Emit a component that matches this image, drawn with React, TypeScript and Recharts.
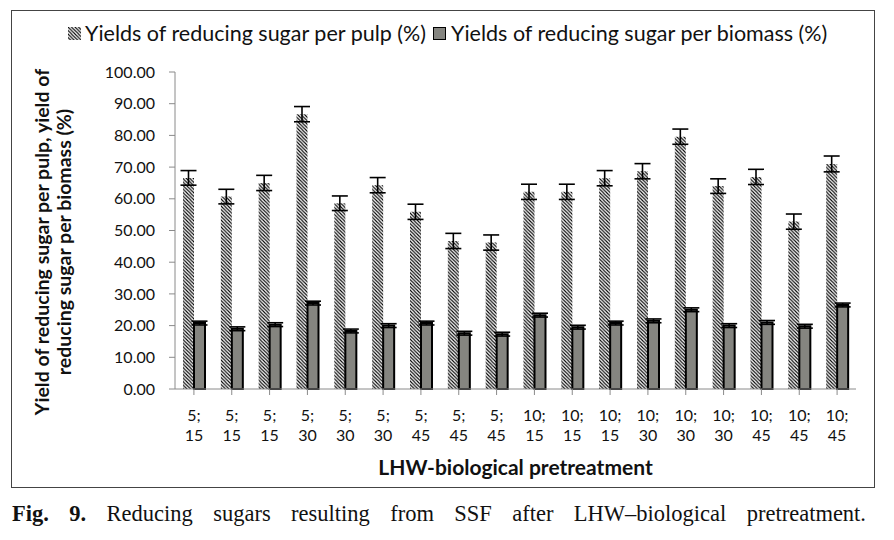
import React from 'react';
import { BarChart, Bar, XAxis, YAxis, ErrorBar } from 'recharts';

const categories = ['5; 15', '5; 15', '5; 15', '5; 30', '5; 30', '5; 30', '5; 45', '5; 45', '5; 45', '10; 15', '10; 15', '10; 15', '10; 30', '10; 30', '10; 30', '10; 45', '10; 45', '10; 45'];
const pulpYield = [66.6, 60.7, 65.0, 86.7, 58.6, 64.3, 55.9, 46.7, 46.2, 62.2, 62.2, 66.5, 68.7, 79.6, 64.0, 66.9, 52.8, 71.0];
const pulpErr = [2.3, 2.3, 2.4, 2.4, 2.3, 2.4, 2.4, 2.4, 2.4, 2.4, 2.4, 2.4, 2.4, 2.4, 2.3, 2.4, 2.4, 2.5];
const biomassYield = [20.8, 19.0, 20.3, 27.1, 18.3, 20.0, 20.8, 17.6, 17.3, 23.3, 19.5, 20.8, 21.5, 25.0, 20.0, 21.0, 19.8, 26.5];
const biomassErr = [0.6, 0.6, 0.6, 0.6, 0.6, 0.6, 0.6, 0.6, 0.6, 0.6, 0.6, 0.6, 0.6, 0.6, 0.6, 0.6, 0.6, 0.6];
const yTicks = [0, 10, 20, 30, 40, 50, 60, 70, 80, 90, 100];

const data = categories.map((name, i) => ({
  name,
  pulp: pulpYield[i],
  pulpErr: pulpErr[i],
  biomass: biomassYield[i],
  biomassErr: biomassErr[i]
}));

const font = 'Lato, "Open Sans", sans-serif';
const axisGray = '#8a8a8a';

const XTick = (props: any) => {
  const { x, y, payload } = props;
  const [a, b] = String(payload.value).split(' ');
  return <g transform={`translate(${x},${y})`}>
      <text textAnchor="middle" fontSize={16} fontFamily={font} fill="#111">
        <tspan x={0} dy={24}>{a}</tspan>
        <tspan x={0} dy={20}>{b}</tspan>
      </text>
    </g>;
};

// two-line rotated axis title
const YTitle = () => {
  const cy = 231;
  return <g>
      <text transform={`translate(37,${cy}) rotate(-90)`} textAnchor="middle" fontSize={19.5} fontWeight={700} fontFamily={font} fill="#111">
        Yield of reducing sugar per pulp, yield of
      </text>
      <text transform={`translate(59,${cy}) rotate(-90)`} textAnchor="middle" fontSize={19.5} fontWeight={700} fontFamily={font} fill="#111">
        reducing sugar per biomass (%)
      </text>
    </g>;
};

const HatchIcon = () => <svg width={13} height={13}>
    <rect width={13} height={13} fill="url(#hatchLegend)" />
    <defs>
      <pattern id="hatchLegend" patternUnits="userSpaceOnUse" width={3.5} height={3.5}>
        <path d="M-1,-1 L4.5,4.5 M-1,2.5 L1,4.5 M2.5,-1 L4.5,1" stroke="#000" strokeWidth={1.1} />
      </pattern>
    </defs>
  </svg>;

const App = () => {
  return <div style={{ fontFamily: font }}>
      <div style={{ position: 'relative', width: 862, height: 476, marginLeft: 3, marginTop: 2, border: '1px solid #444' }}>
        <div style={{ position: 'absolute', left: 56, top: 9, height: 26, display: 'flex', alignItems: 'center', fontSize: 21.5, color: '#111', whiteSpace: 'nowrap' }}>
          <HatchIcon />
          <span style={{ marginLeft: 4 }}>Yields of reducing sugar per pulp (%)</span>
          <span style={{ display: 'inline-block', width: 11, height: 11, background: '#858580', border: '1px solid #000', marginLeft: 7 }} />
          <span style={{ marginLeft: 5 }}>Yields of reducing sugar per biomass (%)</span>
        </div>
        <BarChart width={862} height={476} data={data} margin={{ top: 61, right: 18, left: 0, bottom: 0 }} barGap={0} barSize={11}>
          <defs>
            <pattern id="hatch" patternUnits="userSpaceOnUse" width={3.5} height={3.5}>
              <rect width={3.5} height={3.5} fill="#fff" />
              <path d="M-1,-1 L4.5,4.5 M-1,2.5 L1,4.5 M2.5,-1 L4.5,1" stroke="#000" strokeWidth={1.1} />
            </pattern>
          </defs>
          <XAxis dataKey="name" height={98} interval={0} tick={<XTick />} stroke={axisGray} tickSize={6} tickLine={{ stroke: axisGray }} label={{ value: 'LHW-biological pretreatment', position: 'insideBottom', offset: 12, fontSize: 21, fontWeight: 700, fill: '#111', fontFamily: font }} />
          <YAxis width={163} domain={[0, 100]} ticks={yTicks} tickFormatter={(v: number) => v.toFixed(2)} stroke={axisGray} tickSize={6} tickMargin={14} tick={{ fontSize: 16, fill: '#111', fontFamily: font }} label={{ content: <YTitle /> }} />
          <Bar dataKey="pulp" fill="url(#hatch)" isAnimationActive={false}>
            <ErrorBar dataKey="pulpErr" width={8} stroke="#000" strokeWidth={1.6} direction="y" />
          </Bar>
          <Bar dataKey="biomass" fill="#858580" stroke="#000" strokeWidth={2} isAnimationActive={false}>
            <ErrorBar dataKey="biomassErr" width={8} stroke="#000" strokeWidth={1.6} direction="y" />
          </Bar>
        </BarChart>
      </div>
      <div style={{ width: 854, marginLeft: 4, marginTop: 13, fontFamily: '"Liberation Serif", "DejaVu Serif", serif', fontSize: 22.5, textAlign: 'justify', textAlignLast: 'justify', color: '#111' }}>
        <b>Fig. 9.</b> Reducing sugars resulting from SSF after LHW–biological pretreatment.
      </div>
    </div>;
};

export default App;
